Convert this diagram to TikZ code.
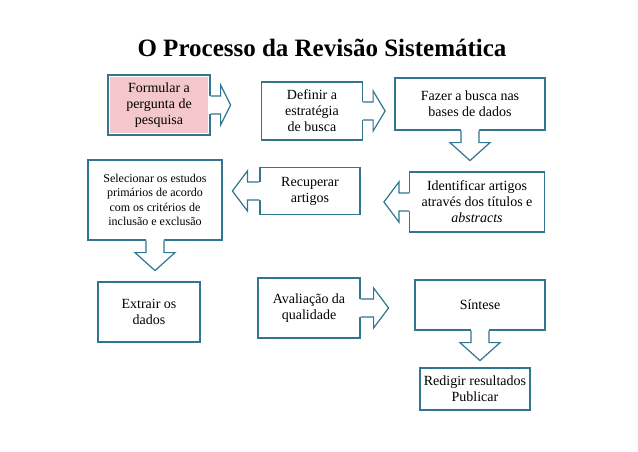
\documentclass[tikz,border=0pt]{standalone}
\usepackage{fontspec}
\setmainfont{Liberation Serif}
\definecolor{teal2}{HTML}{31768F}
\definecolor{pink2}{HTML}{F4C7CC}
\tikzset{
step box/.style={draw=teal2, line width=1.2pt, fill=white, align=center,
  inner sep=2pt, font=\fontsize{14}{16}\selectfont},
small box/.style={draw=teal2, line width=1.2pt, fill=white, align=center,
  inner sep=2pt, font=\fontsize{12}{14.5}\selectfont},
callout/.style={draw=teal2, line width=1.2pt},
}
% arrow leaving a box: anchor, angle, shaft, head
\newcommand\outarrow[4]{%
  \begin{scope}[shift={(#1)}, rotate=#2]
    \fill[white] (-1.5,9) -- (#3,9) -- (#3,20) -- (#3+#4,0) -- (#3,-20) -- (#3,-9) -- (-1.5,-9) -- cycle;
    \draw[callout] (0,9) -- (#3,9) -- (#3,20) -- (#3+#4,0) -- (#3,-20) -- (#3,-9) -- (0,-9);
  \end{scope}}
\begin{document}
\begin{tikzpicture}[x=1pt,y=1pt]
\useasboundingbox (0,0) rectangle (638,451);
\node[font=\bfseries\fontsize{25}{28}\selectfont] (title) at (322,403) {O Processo da Revisão Sistemática};

\node[step box, minimum width=102, minimum height=60] (formular) at (159,346) {};
\fill[pink2] ([shift={(3,-3)}]formular.north west) rectangle ([shift={(-3,3)}]formular.south east);
\node[font=\fontsize{14}{16}\selectfont, align=center] (formtext) at (formular) {Formular a\\pergunta de\\pesquisa};
\node[step box, minimum width=101, minimum height=58] (definir) at (312,340) {Definir a\\estratégia\\de busca};
\node[step box, minimum width=150, minimum height=52] (fazer) at (470,347) {Fazer a busca nas\\bases de dados};
\node[step box, minimum width=135, minimum height=60] (identificar) at (477,249) {Identificar artigos\\através dos títulos e\\\textit{abstracts}};
\node[step box, minimum width=100, minimum height=47] (recuperar) at (310,260) {Recuperar\\artigos};
\node[small box, minimum width=134, minimum height=80] (selecionar) at (155,251) {Selecionar os estudos\\primários de acordo\\com os critérios de\\inclusão e exclusão};
\node[step box, minimum width=102, minimum height=60] (extrair) at (149,139) {Extrair os\\dados};
\node[step box, minimum width=102, minimum height=60] (avaliacao) at (309,143) {Avaliação da\\qualidade};
\node[step box, minimum width=130, minimum height=50] (sintese) at (480,146) {Síntese};
\node[step box, minimum width=110, minimum height=42] (redigir) at (475,62) {Redigir resultados\\Publicar};

\outarrow{formular.east}{0}{10}{10}
\outarrow{definir.east}{0}{10}{12}
\outarrow{fazer.south}{-90}{12}{18}
\outarrow{identificar.west}{180}{10}{15}
\outarrow{recuperar.west}{180}{12}{15}
\outarrow{selecionar.south}{-90}{12}{18}
\outarrow{avaliacao.east}{0}{13}{15}
\outarrow{sintese.south}{-90}{12}{18}
\end{tikzpicture}
\end{document}
